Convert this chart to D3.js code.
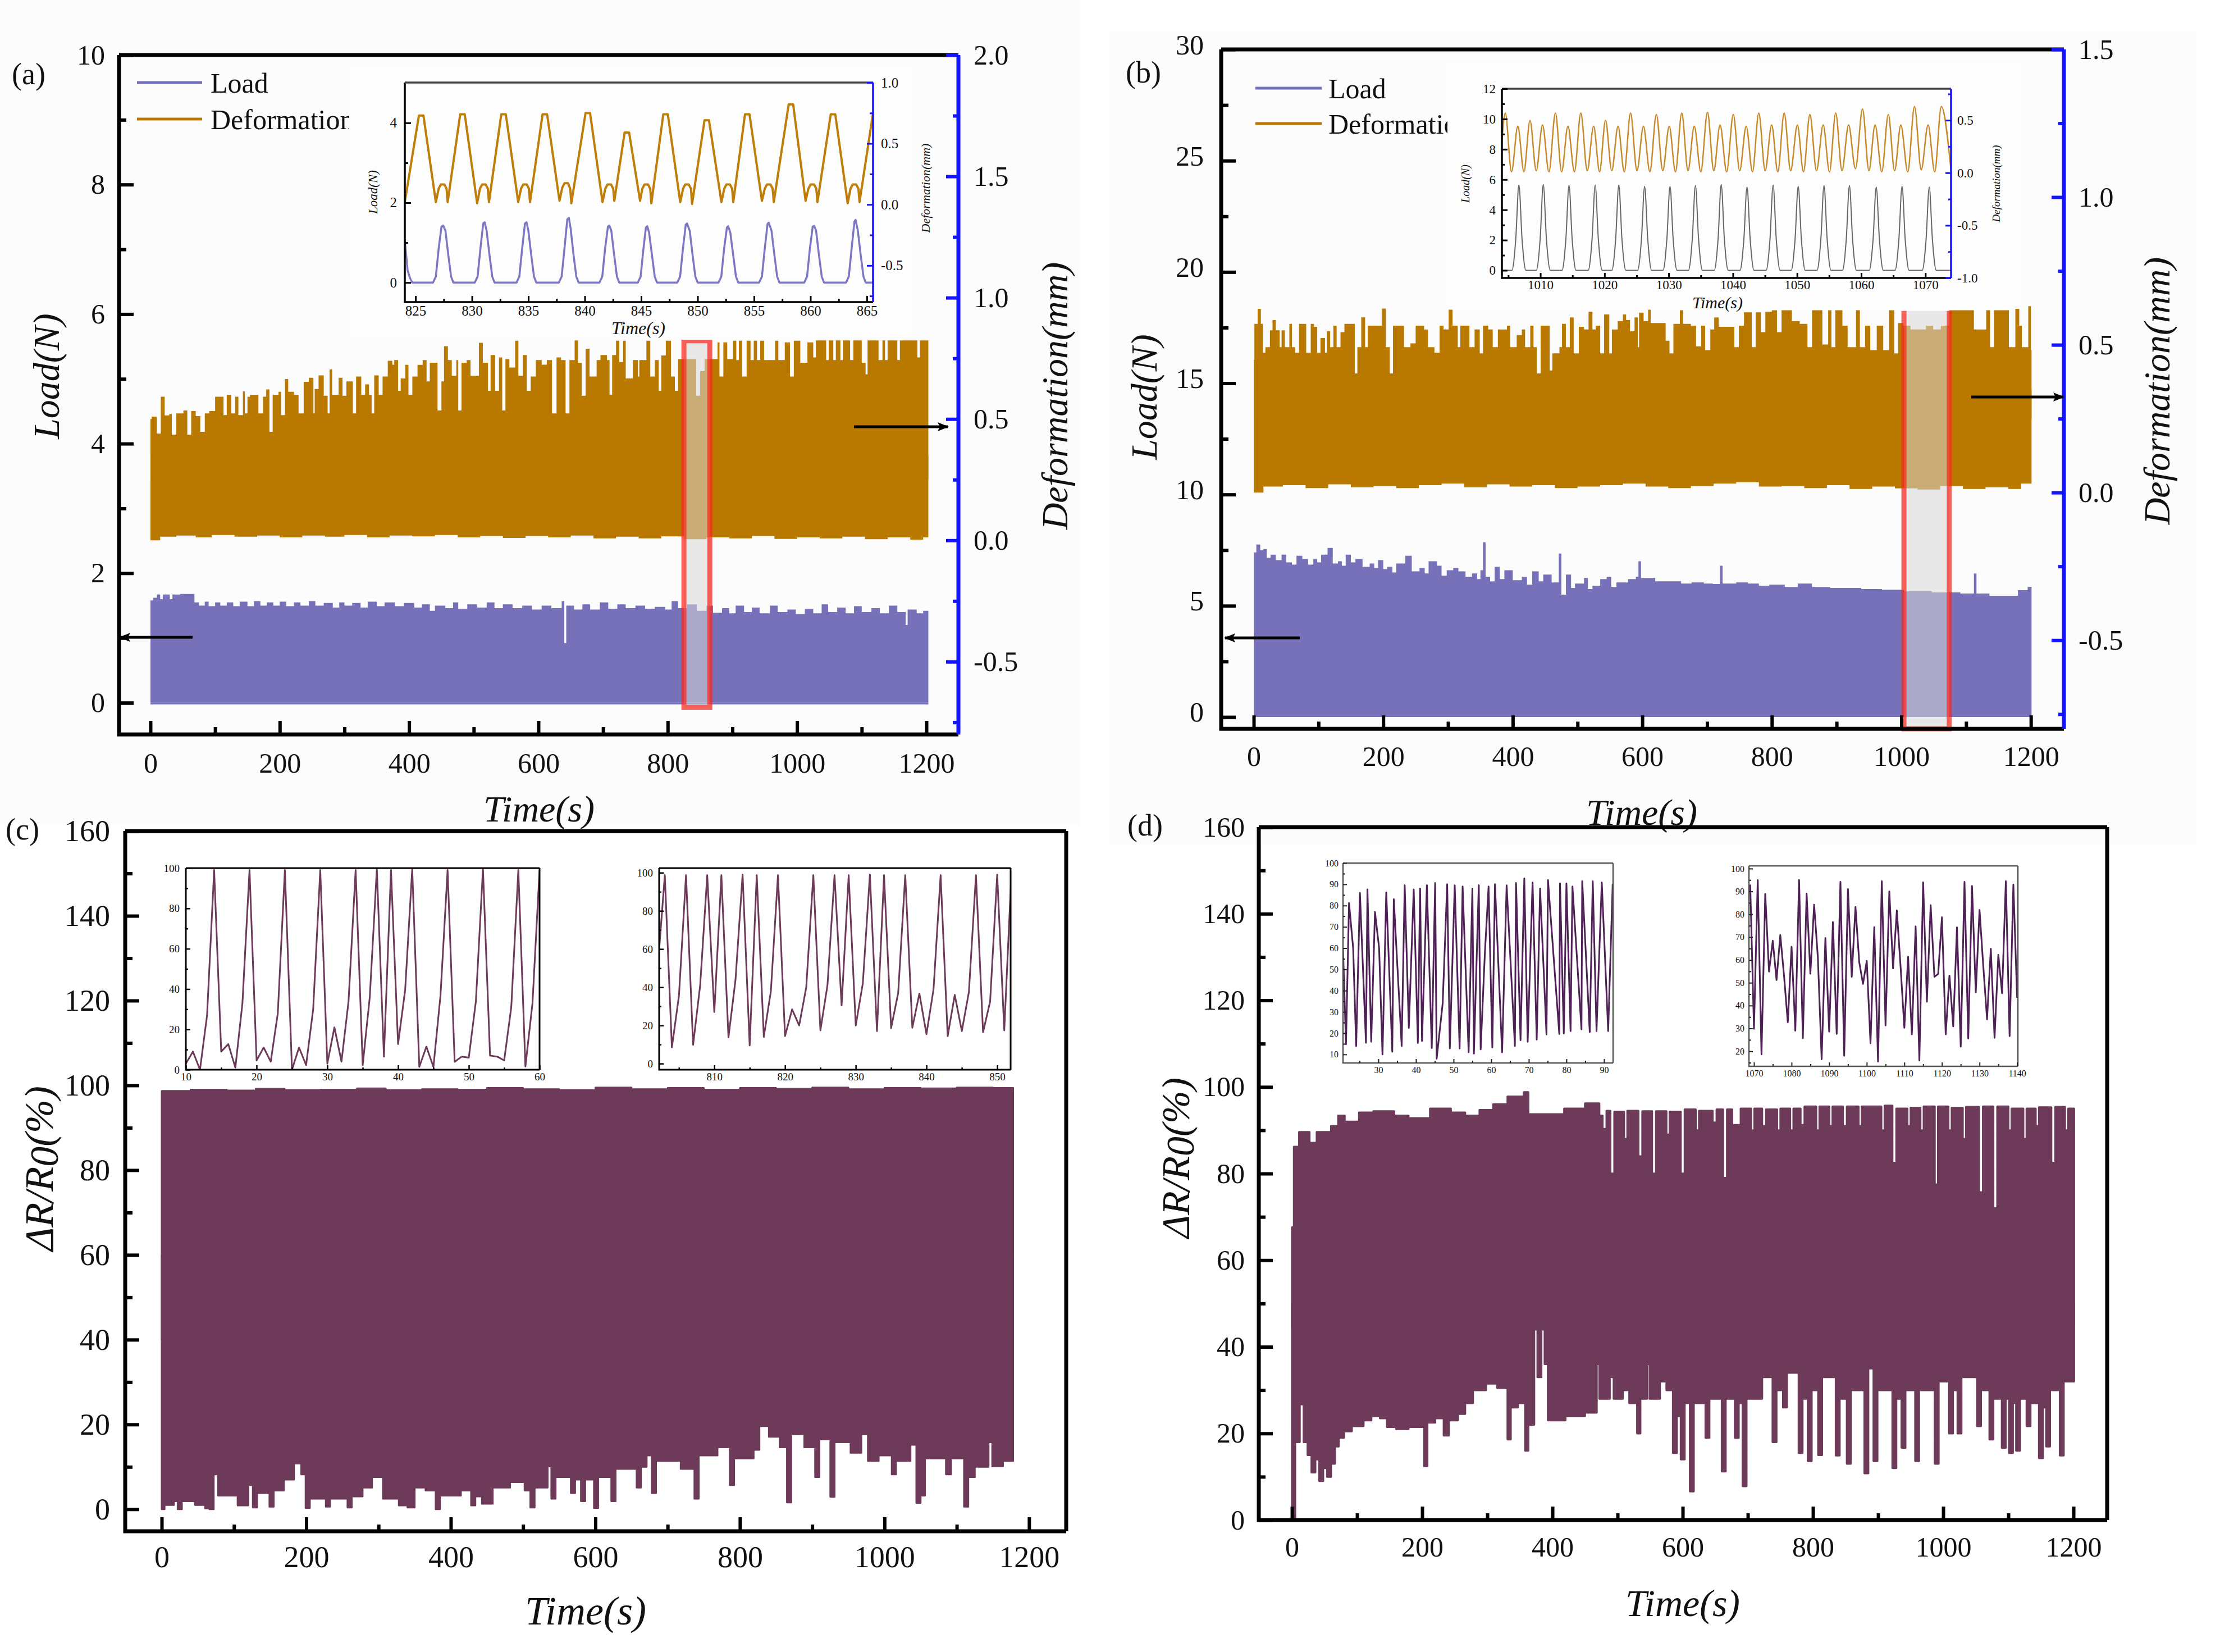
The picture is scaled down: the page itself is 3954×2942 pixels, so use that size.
<!DOCTYPE html>
<html>
<head>
<meta charset="utf-8">
<script src="https://cdnjs.cloudflare.com/ajax/libs/d3/7.8.5/d3.min.js"></script>
<style>
	body { margin: 0; background: #fff; }
	text { font-family: "Liberation Serif", "Times New Roman", serif; fill: #111; }
</style>
</head>
<body>
<div id="vis"></div>
<script>
// all series are [time, value]

// ---- panel (a)
var aDeformTop = [[0,.50],[2,.51],[10,.44],[16,.592],[22,.515],[29,.52],[33,.435],[40,.523],[51,.535],[57,.435],[63,.533],[70,.512],[77,.447],[84,.523],[91,.533],[100,.592],[113,.516],[118,.60],[125,.523],[131,.592],[136,.516],[143,.614],[146,.523],[150,.592],[154,.60],[167,.523],[174,.592],[179,.622],[184,.447],[189,.60],[198,.612],[202,.516],[208,.665],[213,.612],[222,.60],[229,.523],[237,.653],[245,.67],[252,.523],[254,.624],[260,.68],[268,.596],[274,.523],[277,.705],[281,.60],[291,.67],[297,.596],[303,.655],[313,.523],[318,.675],[326,.60],[332,.643],[338,.60],[342,.523],[346,.68],[353,.60],[359,.675],[367,.74],[374,.724],[377,.743],[383,.616],[387,.667],[394,.723],[399,.60],[405,.675],[413,.723],[421,.743],[427,.655],[432,.732],[444,.535],[450,.655],[454,.80],[460,.743],[466,.678],[473,.743],[476,.535],[481,.732],[489,.743],[495,.678],[508,.814],[514,.732],[522,.616],[526,.764],[533,.616],[539,.754],[544,.535],[549,.747],[555,.712],[564,.823],[569,.678],[576,.764],[582,.616],[588,.675],[596,.743],[605,.724],[613,.743],[621,.523],[628,.754],[635,.743],[642,.523],[648,.743],[656,.824],[661,.732],[667,.596],[673,.79],[679,.675],[690,.743],[696,.764],[706,.743],[710,.60],[714,.764],[720,.823],[725,.735],[731,.823],[735,.667],[746,.743],[754,.675],[756,.743],[767,.823],[773,.675],[780,.743],[786,.616],[790,.762],[797,.823],[805,.675],[811,.616],[816,.747],[844,.596],[850,.697],[857,.747],[877,.816],[880,.675],[886,.816],[892,.747],[901,.823],[906,.743],[910,.823],[915,.675],[922,.823],[928,.743],[933,.823],[938,.743],[943,.823],[949,.743],[966,.823],[971,.743],[981,.816],[989,.675],[995,.823],[1005,.732],[1016,.816],[1025,.754],[1029,.824],[1045,.743],[1049,.824],[1056,.743],[1060,.824],[1067,.743],[1071,.824],[1082,.743],[1087,.824],[1100,.732],[1106,.684],[1109,.824],[1126,.743],[1132,.824],[1136,.743],[1140,.824],[1155,.743],[1159,.824],[1186,.754],[1190,.824],[1203,.824]];
var aDeformLow = [[0,.0],[15,.015],[40,.02],[70,.012],[95,.022],[130,.015],[165,.02],[200,.012],[235,.02],[270,.015],[300,.022],[335,.012],[370,.02],[405,.016],[440,.022],[475,.012],[510,.018],[545,.01],[580,.018],[615,.012],[650,.02],[685,.008],[720,.015],[755,.008],[790,.016],[825,.005],[860,.012],[895,.008],[930,.018],[965,.006],[1000,.012],[1035,.008],[1070,.015],[1105,.005],[1140,.012],[1175,.003],[1195,.012],[1203,.012]];
var aLoadTop = [[0,1.58],[4,1.62],[10,1.67],[15,1.6],[19,1.67],[30,1.6],[34,1.67],[46,1.68],[68,1.55],[75,1.5],[84,1.56],[90,1.49],[100,1.55],[108,1.5],[118,1.55],[128,1.49],[138,1.56],[150,1.49],[160,1.57],[170,1.5],[180,1.55],[190,1.5],[200,1.56],[210,1.49],[222,1.55],[232,1.5],[245,1.57],[255,1.5],[268,1.54],[282,1.47],[292,1.55],[300,1.5],[312,1.54],[325,1.47],[336,1.56],[350,1.49],[362,1.55],[378,1.49],[392,1.54],[408,1.47],[420,1.52],[432,1.42],[440,1.5],[456,1.46],[468,1.55],[476,1.45],[490,1.52],[505,1.47],[520,1.55],[532,1.46],[545,1.52],[560,1.46],[575,1.5],[590,1.44],[605,1.5],[620,1.46],[636,1.57],[640,.92],[643,1.5],[655,1.44],[668,1.52],[680,1.44],[695,1.55],[708,1.45],[722,1.52],[735,1.46],[750,1.5],[765,1.45],[780,1.48],[796,1.44],[806,1.57],[816,1.46],[830,1.52],[845,1.42],[860,1.5],[870,1.39],[884,1.46],[895,1.38],[905,1.5],[918,1.4],[930,1.47],[942,1.38],[958,1.5],[970,1.4],[985,1.44],[998,1.37],[1012,1.45],[1025,1.38],[1038,1.52],[1048,1.4],[1062,1.47],[1075,1.38],[1088,1.49],[1100,1.4],[1115,1.46],[1128,1.38],[1142,1.5],[1155,1.4],[1168,1.2],[1171,1.44],[1185,1.38],[1195,1.42],[1203,1.42]];

// zoomed cycles of (a), 824 to 865.5 s
var aInsetDeform = [[824.05,.02],[825.3,.73],[825.7,.73],[826.8,.02],[827.05,.13],[827.25,.165],[827.55,.165],[827.75,.13],[827.85,.02],[828.96,.74],[829.36,.74],[830.46,.01],[830.71,.13],[830.91,.165],[831.21,.165],[831.41,.13],[831.51,.02],[832.6,.74],[833,.74],[834.1,.02],[834.35,.13],[834.55,.165],[834.85,.165],[835.05,.13],[835.15,.02],[836.26,.74],[836.66,.74],[837.76,.03],[838.01,.14],[838.21,.175],[838.51,.175],[838.71,.13],[838.81,.01],[840.07,.75],[840.47,.75],[841.57,.02],[841.82,.13],[842.02,.165],[842.32,.165],[842.52,.13],[842.62,.03],[843.53,.59],[843.93,.59],[844.9,.03],[845.1,.13],[845.3,.165],[845.6,.165],[845.8,.13],[845.9,.01],[846.96,.74],[847.36,.74],[848.46,.02],[848.71,.13],[848.91,.165],[849.21,.165],[849.41,.13],[849.51,.005],[850.61,.69],[851.01,.69],[852.11,.02],[852.36,.13],[852.56,.165],[852.86,.165],[853.06,.13],[853.16,.02],[854.2,.74],[854.6,.74],[855.7,.03],[855.95,.13],[856.15,.165],[856.45,.165],[856.65,.13],[856.75,.02],[858.07,.82],[858.47,.82],[859.57,.03],[859.82,.13],[860.02,.165],[860.32,.165],[860.52,.13],[860.62,.02],[861.8,.74],[862.2,.74],[863.3,.01],[863.55,.13],[863.75,.165],[864.05,.165],[864.25,.13],[864.35,.02],[865.55,.75]];
var aInsetLoad = [[824.05,1.05],[824.3,.3],[824.5,.12],[824.7,0],[826.55,0],[826.8,.15],[827.05,.85],[827.3,1.4],[827.45,1.43],[827.65,1.3],[827.9,.7],[828.15,.15],[828.35,0],[830.25,0],[830.5,.15],[830.75,.85],[831,1.48],[831.13,1.51],[831.3,1.3],[831.55,.7],[831.8,.15],[832,0],[833.95,0],[834.2,.15],[834.45,.85],[834.7,1.48],[834.84,1.51],[835,1.3],[835.25,.7],[835.5,.15],[835.7,0],[837.7,0],[837.95,.15],[838.2,.85],[838.45,1.58],[838.59,1.62],[838.75,1.35],[839,.7],[839.25,.15],[839.45,0],[841.3,0],[841.55,.15],[841.8,.85],[842.05,1.4],[842.17,1.43],[842.35,1.3],[842.6,.7],[842.85,.15],[843.05,0],[844.7,0],[844.95,.15],[845.2,.85],[845.42,1.38],[845.54,1.41],[845.7,1.25],[845.95,.7],[846.2,.15],[846.4,0],[848.2,0],[848.45,.15],[848.7,.85],[848.95,1.45],[849.06,1.48],[849.3,1.3],[849.55,.7],[849.8,.15],[850,0],[851.85,0],[852.1,.15],[852.35,.85],[852.6,1.38],[852.71,1.41],[852.9,1.25],[853.15,.7],[853.4,.15],[853.6,0],[855.45,0],[855.7,.15],[855.95,.85],[856.2,1.47],[856.3,1.5],[856.55,1.3],[856.8,.7],[857.05,.15],[857.25,0],[859.45,0],[859.7,.15],[859.95,.85],[860.2,1.4],[860.33,1.42],[860.5,1.3],[860.75,.7],[861,.15],[861.2,0],[863.15,0],[863.4,.15],[863.65,.85],[863.9,1.53],[864,1.57],[864.2,1.3],[864.45,.7],[864.7,.15],[864.9,0],[865.55,0]];

// ---- panel (b)
var bDeformTop = [[0,.45],[1,.571],[6,.622],[11,.571],[14,.473],[18,.492],[25,.549],[29,.584],[34,.549],[40,.492],[43,.549],[48,.492],[55,.571],[59,.492],[64,.473],[70,.571],[81,.473],[88,.571],[93,.561],[98,.473],[103,.523],[110,.473],[113,.546],[118,.492],[123,.565],[128,.492],[134,.543],[140,.571],[156,.403],[160,.492],[166,.593],[172,.492],[176,.565],[198,.623],[204,.492],[210,.403],[215,.565],[232,.492],[242,.505],[250,.565],[263,.552],[269,.492],[279,.473],[287,.565],[293,.552],[301,.619],[307,.565],[315,.492],[319,.565],[333,.492],[341,.552],[349,.471],[354,.565],[362,.552],[369,.492],[377,.552],[391,.565],[396,.492],[406,.533],[414,.552],[419,.492],[427,.565],[432,.492],[437,.403],[443,.565],[457,.413],[461,.471],[472,.492],[476,.571],[482,.492],[488,.593],[494,.471],[502,.561],[510,.552],[517,.612],[523,.552],[528,.565],[535,.471],[541,.603],[549,.471],[553,.552],[562,.58],[570,.603],[575,.584],[581,.546],[588,.593],[593,.492],[595,.609],[602,.58],[609,.619],[613,.574],[636,.514],[642,.471],[648,.571],[658,.617],[663,.571],[675,.565],[683,.495],[691,.565],[697,.482],[705,.552],[711,.593],[718,.561],[742,.492],[749,.565],[757,.61],[769,.492],[775,.61],[783,.543],[790,.612],[800,.617],[808,.543],[815,.617],[831,.58],[843,.571],[855,.492],[862,.617],[878,.501],[887,.617],[892,.492],[898,.617],[909,.565],[917,.492],[930,.617],[936,.492],[944,.565],[952,.482],[962,.565],[972,.482],[981,.617],[989,.471],[995,.574],[1003,.565],[1014,.552],[1038,.565],[1049,.552],[1061,.565],[1074,.617],[1112,.552],[1131,.617],[1137,.492],[1143,.617],[1166,.492],[1176,.642],[1182,.565],[1186,.492],[1196,.631],[1200,.482],[1201,.482]];
var bDeformLow = [[0,.0],[15,.02],[45,.025],[80,.015],[115,.028],[150,.018],[185,.022],[220,.015],[255,.025],[290,.03],[325,.018],[360,.028],[395,.02],[430,.025],[465,.015],[500,.02],[535,.025],[570,.03],[605,.02],[640,.015],[675,.022],[710,.03],[745,.035],[780,.02],[815,.022],[850,.015],[885,.025],[920,.012],[955,.02],[990,.014],[1025,.01],[1060,.022],[1095,.012],[1130,.018],[1165,.012],[1185,.03],[1201,.03]];
var bLoadTop = [[0,7.4],[4,7.75],[10,7.5],[15,7.55],[20,7.15],[26,7.3],[34,7.05],[43,7.3],[50,6.95],[59,6.85],[66,7.25],[75,7.1],[84,6.85],[92,7.1],[98,6.95],[104,7.3],[114,7.6],[122,6.9],[130,7.0],[136,6.8],[142,7.3],[150,6.95],[157,7.1],[168,6.75],[179,6.9],[186,6.7],[192,7.05],[200,6.65],[206,6.75],[214,6.5],[220,6.9],[234,7.25],[244,6.55],[256,6.7],[264,6.45],[270,7.0],[283,6.8],[290,6.35],[298,6.6],[308,6.7],[316,6.55],[327,6.3],[337,6.45],[345,6.2],[350,6.6],[354,7.85],[358,6.3],[365,6.1],[372,6.75],[380,6.2],[387,6.6],[400,6.15],[414,6.3],[422,5.95],[430,6.55],[440,6.1],[447,6.4],[460,6.05],[471,7.35],[475,5.5],[482,6.4],[490,5.8],[496,6.0],[510,6.25],[516,5.75],[523,5.9],[535,6.2],[545,6.3],[552,5.85],[560,6.05],[578,6.2],[590,6.3],[594,7.0],[598,6.25],[620,6.1],[643,6.1],[660,6.0],[676,6.05],[695,6.0],[709,5.98],[720,6.8],[724,6.0],[745,6.05],[763,6.0],[780,5.9],[796,5.95],[820,5.85],[840,6.0],[862,5.85],[890,5.8],[938,5.75],[970,5.72],[1004,5.65],[1047,5.6],[1091,5.55],[1112,6.45],[1116,5.55],[1136,5.45],[1156,5.45],[1180,5.7],[1195,5.85],[1201,5.8]];

// zoomed cycles of (b), 1004 to 1074 s
var bInsetDeform = [[1004,.3],[1004.53,.567],[1005.5,.01],[1006.48,.444],[1007.43,.01],[1008.38,.498],[1009.35,.02],[1010.33,.455],[1011.33,.01],[1012.34,.567],[1013.31,.01],[1014.29,.444],[1015.3,.01],[1016.3,.567],[1017.3,.02],[1018.3,.444],[1019.22,.01],[1020.15,.498],[1021.12,.02],[1022.1,.444],[1023.07,.01],[1024.05,.567],[1025.05,.02],[1026.06,.444],[1027.06,.01],[1028.07,.554],[1029.07,.02],[1030.08,.444],[1031.05,.01],[1032.03,.567],[1033,.02],[1033.98,.444],[1035,.01],[1036.04,.576],[1037.02,.02],[1038,.455],[1039.03,.01],[1040.06,.554],[1041.06,.02],[1042.07,.444],[1043.05,.01],[1044.03,.567],[1045.03,.02],[1046.04,.455],[1047,.01],[1047.99,.567],[1049,.02],[1050.05,.455],[1051,.01],[1052,.554],[1053.03,.02],[1054.07,.455],[1055.05,.01],[1056.02,.567],[1057,.02],[1058.03,.455],[1059.1,.04],[1060.2,.606],[1061.2,.02],[1062.16,.455],[1063.2,.01],[1064.22,.554],[1065.2,.02],[1066.17,.455],[1067.25,.01],[1068.3,.63],[1069.35,.03],[1070.42,.455],[1071.45,.01],[1072.48,.63],[1074,.02]];
var bInsetLoad = [[1004,0],[1005.55,0],[1006.15,2],[1006.65,5.64],[1007.15,2],[1007.75,0],[1009.35,0],[1009.95,2],[1010.45,5.67],[1010.95,2],[1011.55,0],[1013.36,0],[1013.96,2],[1014.46,5.62],[1014.96,2],[1015.56,0],[1017.44,0],[1018.04,2],[1018.54,5.62],[1019.04,2],[1019.64,0],[1021.12,0],[1021.72,2],[1022.22,5.64],[1022.72,2],[1023.32,0],[1025.14,0],[1025.74,2],[1026.24,5.55],[1026.74,2],[1027.34,0],[1029.1,0],[1029.7,2],[1030.2,5.55],[1030.7,2],[1031.3,0],[1033.06,0],[1033.66,2],[1034.16,5.6],[1034.66,2],[1035.26,0],[1037.08,0],[1037.68,2],[1038.18,5.67],[1038.68,2],[1039.28,0],[1041.1,0],[1041.7,2],[1042.2,5.5],[1042.7,2],[1043.3,0],[1045.17,0],[1045.77,2],[1046.27,5.63],[1046.77,2],[1047.37,0],[1049.08,0],[1049.68,2],[1050.18,5.55],[1050.68,2],[1051.28,0],[1053.1,0],[1053.7,2],[1054.2,5.6],[1054.7,2],[1055.3,0],[1057.06,0],[1057.66,2],[1058.16,5.6],[1058.66,2],[1059.26,0],[1061.24,0],[1061.84,2],[1062.34,5.5],[1062.84,2],[1063.44,0],[1065.26,0],[1065.86,2],[1066.36,5.55],[1066.86,2],[1067.46,0],[1069.5,0],[1070.1,2],[1070.6,5.5],[1071.1,2],[1071.7,0],[1074,0]];

// ---- panel (c)
var cTop = [[0,98.7],[40,99],[90,98.8],[130,99.2],[170,98.9],[220,99],[270,99.3],[310,98.9],[360,99.1],[410,99],[450,99.4],[500,99.1],[550,98.9],[600,99.5],[650,99.1],[700,99.4],[750,99],[800,99.4],[850,99.2],[900,99.5],[950,99.1],[1000,99.4],[1050,99.3],[1100,99.5],[1150,99.4],[1178,99.4]];
var cLow = [[0,0],[4,1],[17,1.9],[22,0],[28,1.9],[46,1],[60,.2],[66,0],[72,8.2],[78,3.2],[105,.9],[120,5.7],[126,.4],[132,3.8],[149,.6],[155,4.4],[169,7],[183,10.8],[193,8.2],[199,.3],[205,2.5],[227,.6],[233,2.5],[257,.4],[263,3],[278,5.1],[291,7.6],[306,2.5],[328,.9],[340,.4],[350,5.1],[365,4.4],[379,0],[385,3.2],[414,4.4],[428,.9],[434,3],[443,1.3],[458,5.1],[482,6.4],[502,4.4],[510,.4],[516,5.1],[534,10.1],[539,2.5],[545,7.6],[566,3.8],[572,7],[580,1.9],[586,7],[598,.3],[604,7.6],[622,1.9],[628,9.5],[657,5.1],[663,10],[671,12.7],[678,3.8],[684,11.4],[718,9.5],[737,2.5],[743,12.7],[769,14.6],[786,5.7],[792,12],[819,14],[827,19.6],[840,17.1],[855,14.6],[865,1.6],[871,17.7],[889,14.6],[904,7.6],[910,16.5],[925,2.9],[931,15.8],[953,13.3],[968,17.7],[977,11.4],[992,12.7],[1010,8.2],[1016,11.4],[1036,15.2],[1044,1.5],[1050,3.2],[1056,12],[1085,8.2],[1092,12],[1110,.6],[1116,7.6],[1125,10],[1144,15.8],[1149,10.1],[1164,11.4],[1178,13.3]];
var cInsetStart = [[10,3],[11,9],[12,0],[13,27],[14,99],[15,9],[16,12.7],[17,1],[18,33],[19,99],[20,4.6],[21,11],[22,4],[23,28],[24,99],[25,0],[26,11],[27,2.3],[28,30],[29,99],[30,3],[31,21],[32,4],[33,34],[34,99],[35,2.3],[36,36],[37,99.5],[38,6.5],[39,99],[40,12.7],[41,39.5],[42,99.5],[43,1.4],[44,11.4],[45,1.4],[46,37],[47,99],[48,3.9],[49,6.5],[50,6],[51,34],[52,99.5],[53,7],[54,6.5],[55,4.6],[56,31],[57,99],[58,1.6],[59,33],[60,99]];
var cInsetLate = [[802,50],[803,98.7],[804,8.5],[805,35.5],[806,98.7],[807,9.8],[808,41],[809,98.7],[810,27],[811,98.7],[812,13.7],[813,44],[814,99],[815,9.5],[816,98.7],[817,14],[818,38],[819,98.7],[820,14.4],[821,28.4],[822,20],[823,40],[824,98.7],[825,17.4],[826,41],[827,98.7],[828,30.4],[829,98.7],[830,20],[831,42],[832,99],[833,17],[834,98.7],[835,18.6],[836,37],[837,98.7],[838,18.8],[839,36.7],[840,15.4],[841,39],[842,98.7],[843,14.4],[844,36],[845,17],[846,37.5],[847,98.7],[848,16.4],[849,32.5],[850,99],[851,17.4],[852,98.7]];

// ---- panel (d)
var dTop = [[0,67.6],[3,86.2],[11,89.6],[27,87.1],[38,89.6],[60,91],[71,93.4],[81,92],[103,94.1],[125,94.4],[157,93.4],[179,92.8],[212,95],[244,94.1],[266,93.4],[288,94.7],[309,96],[331,97.8],[356,98.8],[363,93.7],[396,93.7],[418,95],[450,96.2],[472,93.4],[477,90.3],[483,94.5],[489,80],[495,94.3],[510,88],[515,94.5],[532,84],[538,94.4],[553,80],[559,94.4],[575,89],[580,94.3],[597,80],[603,94.8],[620,90],[625,94.5],[646,91.8],[652,94.8],[662,79],[668,94.8],[676,91.2],[689,95],[705,90],[710,95],[722,91],[728,94.8],[745,90],[750,95],[765,90],[770,95],[781,91.2],[787,95.5],[805,90],[810,95.5],[825,91],[830,95.5],[846,91],[852,95.5],[870,91],[875,95.5],[905,90],[910,95.7],[922,82.5],[928,95],[945,91],[950,95.2],[965,90],[970,95.5],[987,77.5],[992,95.5],[1008,90],[1013,95.2],[1030,88],[1035,95.4],[1055,75.7],[1061,95.5],[1077,72],[1083,95.5],[1100,90],[1105,95],[1123,88],[1128,95],[1142,91],[1147,95.3],[1166,82.5],[1172,95.4],[1187,90],[1192,95],[1201,92]];
var dLow = [[0,0],[5,18],[12,26.7],[18,18],[24,15],[30,11],[36,14],[42,9],[48,12],[54,10],[60,13],[66,17],[72,19],[80,20.5],[92,21.7],[110,23],[122,24],[135,23.5],[146,21.5],[160,21],[179,21.5],[203,12.4],[208,22.5],[220,23.5],[233,19.5],[241,23],[255,24.5],[266,27],[278,30],[298,31.5],[315,30.5],[331,18.6],[336,26],[347,27],[358,16],[363,22],[372,44],[377,33],[383,44],[388,36],[393,23],[420,24],[450,24.8],[468,36],[472,28],[488,33],[494,28],[508,30],[515,44],[518,27],[530,20],[535,28],[545,36],[549,28],[565,32],[575,30],[585,15.5],[591,24],[597,14],[603,27],[611,6.6],[617,27],[635,19],[641,28],[660,11.2],[666,28],[680,19],[686,27],[692,7.8],[698,28],[722,33],[738,18],[744,30],[754,26],[760,34],[778,15.5],[784,28],[792,13.6],[798,30],[808,15],[814,33],[835,14.9],[841,28],[852,13],[858,30],[879,10.8],[885,35],[893,13.6],[899,30],[922,12],[928,28],[936,16.7],[942,30],[957,13.6],[963,30],[987,13],[993,32],[1009,20],[1015,30],[1022,20],[1028,33],[1052,21.7],[1058,30],[1071,18.6],[1077,28],[1090,16.7],[1096,28],[1101,15.5],[1107,27],[1112,16],[1118,28],[1128,21.7],[1134,27],[1147,14.3],[1153,26],[1158,17],[1164,30],[1179,14.9],[1185,32],[1201,32.9]];
var dInsetStart = [[20.6,60],[21.4,14.8],[22.2,81.2],[23.3,60],[24.1,14],[25.1,86],[26.7,15.5],[27.1,87.6],[28.1,16],[29.1,77],[30.2,60],[31.1,10],[32.1,86.2],[33.7,11.3],[34.1,83],[36.2,14],[37,89.6],[38.1,22.5],[39.4,87.6],[40.5,15.4],[41.1,88],[41.6,16.3],[42.9,89.6],[44.2,13],[45.1,90.6],[45.5,8],[47.1,34],[48.3,90],[49,12.8],[50.3,89.6],[51.6,12.8],[52.4,89],[54,11],[55,88],[55.4,10.4],[56.7,89.6],[57.2,12.4],[58.3,57],[59.3,89],[60.3,13.3],[61,90],[62.9,11],[64.1,89.5],[66.3,14],[66.6,90.6],[67.8,16.7],[68.8,92.8],[69.7,16],[71,90.9],[72.1,17],[73,88],[74.7,19.4],[75.1,92],[78.1,19.6],[78.3,90.4],[79.3,19.8],[80,90.4],[81.1,21],[81.6,89],[84,21.8],[84.2,91.5],[86.2,20.5],[87,91.5],[88,21],[89.4,90.9],[91.1,21],[92.3,90.2]];
var dInsetLate = [[1069,93],[1070,29.8],[1071,95],[1072,18.6],[1073,88.9],[1074,54.9],[1075,68.4],[1076,51.2],[1077,70.9],[1078,53],[1079,32.7],[1080,65.8],[1081,29],[1082,95],[1083,25.7],[1084,89],[1085,54],[1086,84.2],[1087,61],[1088,16.5],[1089,69.6],[1090,28.6],[1091,76.6],[1092,27.6],[1093,94.2],[1094,18],[1095,91],[1096,52.6],[1097,83.2],[1098,59],[1099,49.5],[1100,59.6],[1101,23.5],[1102,74.4],[1103,15.5],[1104,94.5],[1105,31.3],[1106,90],[1107,56.3],[1108,81.7],[1109,57],[1110,30.3],[1111,61.4],[1112,27.4],[1113,74.7],[1114,16],[1115,94],[1116,41.7],[1117,84],[1118,52.6],[1119,53.9],[1120,78.7],[1121,27.4],[1122,53.2],[1123,30.9],[1124,74.3],[1125,22],[1126,94.2],[1127,25.6],[1128,92.4],[1129,45.8],[1130,81.9],[1131,57.3],[1132,34],[1133,64.9],[1134,25.9],[1135,62.2],[1136,45.4],[1137,94.5],[1138,26.6],[1139,93],[1140,43.4]];

// tick labels
var timeTicks = [0,200,400,600,800,1000,1200];
var timeMinor = [100,300,500,700,900,1100];
var aLoadTicks = [0,2,4,6,8,10];
var aLoadMinor = [1,3,5,7,9];
var aDefTicks = [-0.5,0,0.5,1,1.5,2];
var defMinor = [-0.75,-0.25,0.25,0.75,1.25,1.75];
var bLoadTicks = [0,5,10,15,20,25,30];
var bLoadMinor = [2.5,7.5,12.5,17.5,22.5,27.5];
var bDefTicks = [-0.5,0,0.5,1,1.5];
var resTicks = [0,20,40,60,80,100,120,140,160];
var resMinor = [10,30,50,70,90,110,130,150];

var loadColor = "#7671b9";
var deformColor = "#b97800";
var resColor = "#6d3a59";
var axisBlue = "#1414ff";
var serif = "'Liberation Serif', serif";

var svg = d3.select("#vis").append("svg")
	.attr("width", 3954)
	.attr("height", 2942)
	.style("display", "block");

svg.append("rect").attr("width", 3954).attr("height", 2942).attr("fill", "#fff");
svg.append("rect").attr("x", 0).attr("y", 0).attr("width", 1925).attr("height", 1470).attr("fill", "#fcfcfc");
svg.append("rect").attr("x", 1975).attr("y", 55).attr("width", 1938).attr("height", 1450).attr("fill", "#fcfcfc");

var defs = svg.append("defs");
defs.append("marker")
	.attr("id", "arrow")
	.attr("markerUnits", "userSpaceOnUse")
	.attr("viewBox", "0 0 10 10")
	.attr("refX", 9).attr("refY", 5)
	.attr("markerWidth", 20).attr("markerHeight", 20)
	.attr("orient", "auto")
	.append("path")
	.attr("d", "M0,1 L10,5 L0,9 L2,5 Z")
	.attr("fill", "#000");

function addText(x, y, str, size, opts) {
	opts = opts || {};
	var t = svg.append("text")
		.attr("x", x)
		.attr("y", y)
		.attr("dy", "0.35em")
		.attr("font-size", size)
		.attr("text-anchor", opts.anchor || "middle")
		.style("font-style", opts.italic ? "italic" : "normal")
		.text(str);
	if (opts.rotate) {
		t.attr("transform", "rotate(-90 " + x + " " + y + ")");
	}
	return t;
}

// envelope of a dense trace: filled from the traced edge to a value inside the band
function drawEnvelope(xs, ys, series, inside, color, thick) {
	var area = d3.area()
		.curve(d3.curveStepAfter)
		.x(function(d) { return xs(d[0]); })
		.y0(ys(inside))
		.y1(function(d) { return ys(d[1]); });
	svg.append("path")
		.attr("d", area(series))
		.attr("fill", color)
		.attr("stroke", thick ? color : "none")
		.attr("stroke-width", thick || 0)
		.attr("stroke-linejoin", "round");
}

function styleAxis(g, color, width, size, shift) {
	g.select(".domain").remove();
	g.selectAll(".tick line").attr("stroke", color).attr("stroke-width", width);
	g.selectAll(".tick text").attr("font-size", size).attr("font-family", serif).attr("fill", "#111");
	if (shift) {
		g.selectAll(".tick text").attr("y", shift);
	}
}

// major and minor ticks point into the plot
function drawAxis(maker, scale, ticks, minor, at, o) {
	var fmt = o.fmt || function(d) { return d; };
	var gMinor = svg.append("g").attr("transform", at);
	gMinor.call(maker(scale).tickValues(minor).tickSize(-o.minorLen).tickFormat(""));
	styleAxis(gMinor, o.color, o.width, o.size);
	var gMajor = svg.append("g").attr("transform", at);
	gMajor.call(maker(scale).tickValues(ticks).tickSize(-o.len).tickPadding(o.pad).tickFormat(fmt));
	styleAxis(gMajor, o.color, o.width, o.size, o.shift);
}

function oneDecimal(d) { return d.toFixed(1); }

function drawFrame(b, color, width, rightColor, topColor) {
	svg.append("path")
		.attr("d", "M" + b.l + "," + b.t + "V" + b.b + "H" + b.r)
		.attr("fill", "none").attr("stroke", color).attr("stroke-width", width);
	svg.append("line").attr("x1", b.l).attr("x2", b.r).attr("y1", b.t).attr("y2", b.t)
		.attr("stroke", topColor || color).attr("stroke-width", width);
	svg.append("line").attr("x1", b.r).attr("x2", b.r).attr("y1", b.t).attr("y2", b.b)
		.attr("stroke", rightColor || color).attr("stroke-width", width);
}

function drawHighlight(xs, yTop, yBottom, t0, t1, withTop) {
	var x0 = xs(t0), x1 = xs(t1);
	svg.append("rect")
		.attr("x", x0).attr("y", yTop)
		.attr("width", x1 - x0).attr("height", yBottom - yTop)
		.attr("fill", "rgba(215,215,215,0.55)");
	var d = "M" + x0 + "," + yTop + "V" + yBottom + "H" + x1 + "V" + yTop + (withTop ? "Z" : "");
	svg.append("path")
		.attr("d", d)
		.attr("fill", "none")
		.attr("stroke", "rgba(250,40,30,0.72)")
		.attr("stroke-width", 9);
}

function drawArrow(x1, x2, y) {
	svg.append("line")
		.attr("x1", x1).attr("x2", x2).attr("y1", y).attr("y2", y)
		.attr("stroke", "#000").attr("stroke-width", 5)
		.attr("marker-end", "url(#arrow)");
}

function drawLegend(x0, x1, textX, y1, y2) {
	svg.append("line").attr("x1", x0).attr("x2", x1).attr("y1", y1).attr("y2", y1)
		.attr("stroke", loadColor).attr("stroke-width", 5);
	svg.append("line").attr("x1", x0).attr("x2", x1).attr("y1", y2).attr("y2", y2)
		.attr("stroke", deformColor).attr("stroke-width", 5);
	addText(textX, y1, "Load", 50, { anchor: "start" });
	addText(textX, y2, "Deformation", 50, { anchor: "start" });
}

var insetId = 0;
function drawInsetLine(b, xs, ys, series, color, width, curve) {
	insetId += 1;
	var id = "inset" + insetId;
	defs.append("clipPath").attr("id", id).append("rect")
		.attr("x", b.l).attr("y", b.t).attr("width", b.r - b.l).attr("height", b.b - b.t);
	var line = d3.line()
		.curve(curve || d3.curveLinear)
		.x(function(d) { return xs(d[0]); })
		.y(function(d) { return ys(d[1]); });
	svg.append("path")
		.attr("d", line(series))
		.attr("clip-path", "url(#" + id + ")")
		.attr("fill", "none")
		.attr("stroke", color)
		.attr("stroke-width", width)
		.attr("stroke-linejoin", "round");
}

function axisOpts(len, minorLen, pad, size, color, width, fmt, shift) {
	return { len: len, minorLen: minorLen, pad: pad, size: size, color: color, width: width, fmt: fmt, shift: shift };
}

// ---------- panel (a)
var boxA = { l: 212, r: 1707, t: 98, b: 1308 };
var xA = d3.scaleLinear().domain([-48.6, 1249.5]).range([boxA.l, boxA.r]);
var yLoadA = d3.scaleLinear().domain([-0.49, 10]).range([boxA.b, boxA.t]);
var yDefA = d3.scaleLinear().domain([-0.8, 2]).range([boxA.b, boxA.t]);

drawEnvelope(xA, yDefA, aDeformTop, 0.25, deformColor);
drawEnvelope(xA, yDefA, aDeformLow, 0.35, deformColor);
drawEnvelope(xA, yLoadA, aLoadTop, 0, loadColor);
svg.append("rect").attr("x", xA(0)).attr("y", yLoadA(0)).attr("width", xA(1203) - xA(0)).attr("height", 3).attr("fill", loadColor);
drawHighlight(xA, yLoadA(5.59), yLoadA(-0.07), 825, 865, true);
drawFrame(boxA, "#000", 7, axisBlue);
drawAxis(d3.axisBottom, xA, timeTicks, timeMinor, "translate(0," + boxA.b + ")", axisOpts(24, 13, 32, 50, "#000", 6));
drawAxis(d3.axisLeft, yLoadA, aLoadTicks, aLoadMinor, "translate(" + boxA.l + ",0)", axisOpts(26, 13, 25, 50, "#000", 6));
drawAxis(d3.axisRight, yDefA, aDefTicks, defMinor, "translate(" + boxA.r + ",0)", axisOpts(22, 10, 27, 50, axisBlue, 6, oneDecimal));
drawArrow(343, 214, 1135);
drawArrow(1521, 1688, 760);
drawLegend(244, 360, 375, 147, 212);
svg.append("rect").attr("x", 622).attr("y", 115).attr("width", 1006).attr("height", 490).attr("fill", "#fdfdfd");
addText(21, 131, "(a)", 54, { anchor: "start" });
addText(960, 1440, "Time(s)", 66, { italic: true });
addText(82, 670, "Load(N)", 66, { italic: true, rotate: true });
addText(1878, 705, "Deformation(mm)", 66, { italic: true, rotate: true });

// inset of (a)
var inA = { l: 721, r: 1555, t: 147, b: 538 };
var inAx = d3.scaleLinear().domain([824.05, 865.55]).range([inA.l, inA.r]);
var inAyL = d3.scaleLinear().domain([-0.49, 5.01]).range([inA.b, inA.t]);
var inAyR = d3.scaleLinear().domain([-0.8, 1]).range([inA.b, inA.t]);
drawInsetLine(inA, inAx, inAyR, aInsetDeform, "#c07d08", 4);
drawInsetLine(inA, inAx, inAyL, aInsetLoad, "#7b77c4", 3.5);
drawFrame(inA, "#000", 3.5, axisBlue, "#444");
drawAxis(d3.axisBottom, inAx, d3.range(825, 866, 5), d3.range(827.5, 865, 5), "translate(0," + inA.b + ")", axisOpts(11, 6, 6, 25, "#000", 3));
drawAxis(d3.axisLeft, inAyL, [0, 2, 4], [1, 3], "translate(" + inA.l + ",0)", axisOpts(11, 6, 14, 25, "#000", 3));
drawAxis(d3.axisRight, inAyR, [-0.5, 0, 0.5, 1], [-0.75, -0.25, 0.25, 0.75], "translate(" + inA.r + ",0)", axisOpts(11, 6, 14, 25, axisBlue, 3, oneDecimal));
addText(1137, 584, "Time(s)", 32, { italic: true });
addText(664, 342, "Load(N)", 23, { italic: true, rotate: true });
addText(1648, 335, "Deformation(mm)", 22, { italic: true, rotate: true });

// ---------- panel (b)
var boxB = { l: 2175, r: 3676, t: 88, b: 1298 };
var xB = d3.scaleLinear().domain([-50.3, 1251]).range([boxB.l, boxB.r]);
var yLoadB = d3.scaleLinear().domain([-0.53, 30]).range([boxB.b, boxB.t]);
var yDefB = d3.scaleLinear().domain([-0.8, 1.5]).range([boxB.b, boxB.t]);

drawEnvelope(xB, yDefB, bDeformTop, 0.25, deformColor);
drawEnvelope(xB, yDefB, bDeformLow, 0.35, deformColor);
drawEnvelope(xB, yLoadB, bLoadTop, 0, loadColor);
drawHighlight(xB, yLoadB(18.25), boxB.b, 1004, 1074, false);
drawFrame(boxB, "#000", 7, axisBlue);
drawAxis(d3.axisBottom, xB, timeTicks, timeMinor, "translate(0," + boxB.b + ")", axisOpts(24, 13, 30, 50, "#000", 6));
drawAxis(d3.axisLeft, yLoadB, bLoadTicks, bLoadMinor, "translate(" + boxB.l + ",0)", axisOpts(26, 13, 31, 50, "#000", 6, null, -8));
drawAxis(d3.axisRight, yDefB, bDefTicks, defMinor.slice(0, 5), "translate(" + boxB.r + ",0)", axisOpts(22, 10, 26, 50, axisBlue, 6, oneDecimal));
drawArrow(2315, 2182, 1136);
drawArrow(3511, 3675, 707);
drawLegend(2236, 2354, 2366, 157, 220);
svg.append("rect").attr("x", 2578).attr("y", 110).attr("width", 1020).attr("height", 440).attr("fill", "#fdfdfd");
addText(2005, 128, "(b)", 54, { anchor: "start" });
addText(2924, 1446, "Time(s)", 66, { italic: true });
addText(2037, 707, "Load(N)", 66, { italic: true, rotate: true });
addText(3841, 696, "Deformation(mm)", 66, { italic: true, rotate: true });

// inset of (b)
var inB = { l: 2675, r: 3475, t: 158, b: 495 };
var inBx = d3.scaleLinear().domain([1004, 1074]).range([inB.l, inB.r]);
var inByL = d3.scaleLinear().domain([-0.5, 12]).range([inB.b, inB.t]);
var inByR = d3.scaleLinear().domain([-1, 0.8]).range([inB.b, inB.t]);
drawInsetLine(inB, inBx, inByR, bInsetDeform, "#c8892a", 2.5, d3.curveMonotoneX);
drawInsetLine(inB, inBx, inByL, bInsetLoad, "#666", 2, d3.curveMonotoneX);
drawFrame(inB, "#000", 3.5, axisBlue, "#444");
drawAxis(d3.axisBottom, inBx, d3.range(1010, 1071, 10), d3.range(1005, 1075, 10), "translate(0," + inB.b + ")", axisOpts(9, 5, 4, 23, "#000", 3));
drawAxis(d3.axisLeft, inByL, [0, 2, 4, 6, 8, 10, 12], [1, 3, 5, 7, 9, 11], "translate(" + inB.l + ",0)", axisOpts(10, 5, 11, 23, "#000", 3));
drawAxis(d3.axisRight, inByR, [-1, -0.5, 0, 0.5], [-0.75, -0.25, 0.25, 0.75], "translate(" + inB.r + ",0)", axisOpts(10, 5, 11, 23, axisBlue, 3, oneDecimal));
addText(3059, 538, "Time(s)", 30, { italic: true });
addText(2610, 327, "Load(N)", 20, { italic: true, rotate: true });
addText(3555, 327, "Deformation(mm)", 19, { italic: true, rotate: true });

// ---------- panel (c)
var boxC = { l: 223, r: 1899, t: 1480, b: 2727 };
var xC = d3.scaleLinear().domain([-50.5, 1251.4]).range([boxC.l, boxC.r]);
var yC = d3.scaleLinear().domain([-5.2, 160]).range([boxC.b, boxC.t]);

drawEnvelope(xC, yC, cTop, 40, resColor, 3);
drawEnvelope(xC, yC, cLow, 60, resColor, 3);
drawFrame(boxC, "#000", 7);
drawAxis(d3.axisBottom, xC, timeTicks, timeMinor, "translate(0," + boxC.b + ")", axisOpts(25, 12, 26, 54, "#000", 6));
drawAxis(d3.axisLeft, yC, resTicks, resMinor, "translate(" + boxC.l + ",0)", axisOpts(25, 13, 27, 54, "#000", 6));
addText(10, 1476, "(c)", 54, { anchor: "start" });
addText(1043, 2868, "Time(s)", 72, { italic: true });
var resTitleC = addText(69, 2081, "\u0394R/R", 72, { italic: true, rotate: true });
resTitleC.append("tspan").attr("dy", "0.12em").text("0");
resTitleC.append("tspan").attr("dy", "-0.12em").text("(%)");

var inC1 = { l: 331, r: 961, t: 1546, b: 1905 };
var inC1x = d3.scaleLinear().domain([10, 60]).range([inC1.l, inC1.r]);
var inC1y = d3.scaleLinear().domain([0, 100]).range([inC1.b, inC1.t]);
drawInsetLine(inC1, inC1x, inC1y, cInsetStart, resColor, 3);
drawFrame(inC1, "#000", 3);
drawAxis(d3.axisBottom, inC1x, d3.range(10, 61, 10), d3.range(15, 60, 10), "translate(0," + inC1.b + ")", axisOpts(8, 4, 6, 19, "#000", 2.5));
drawAxis(d3.axisLeft, inC1y, d3.range(0, 101, 20), d3.range(10, 100, 20), "translate(" + inC1.l + ",0)", axisOpts(8, 4, 11, 19, "#000", 2.5));

var inC2 = { l: 1174, r: 1800, t: 1546, b: 1905 };
var inC2x = d3.scaleLinear().domain([802.2, 851.9]).range([inC2.l, inC2.r]);
var inC2y = d3.scaleLinear().domain([-3.2, 102.4]).range([inC2.b, inC2.t]);
drawInsetLine(inC2, inC2x, inC2y, cInsetLate, resColor, 3);
drawFrame(inC2, "#000", 3);
drawAxis(d3.axisBottom, inC2x, d3.range(810, 851, 10), d3.range(805, 851, 10), "translate(0," + inC2.b + ")", axisOpts(8, 4, 6, 19, "#000", 2.5));
drawAxis(d3.axisLeft, inC2y, d3.range(0, 101, 20), d3.range(10, 100, 20), "translate(" + inC2.l + ",0)", axisOpts(8, 4, 11, 19, "#000", 2.5));

// ---------- panel (d)
var boxD = { l: 2242, r: 3753, t: 1473, b: 2707 };
var xD = d3.scaleLinear().domain([-50.9, 1251.7]).range([boxD.l, boxD.r]);
var yD = d3.scaleLinear().domain([0, 160]).range([boxD.b, boxD.t]);

drawEnvelope(xD, yD, dTop, 45, resColor, 3.5);
drawEnvelope(xD, yD, dLow, 50, resColor, 3.5);
drawFrame(boxD, "#000", 7);
drawAxis(d3.axisBottom, xD, timeTicks, timeMinor, "translate(0," + boxD.b + ")", axisOpts(24, 12, 29, 50, "#000", 6));
drawAxis(d3.axisLeft, yD, resTicks, resMinor, "translate(" + boxD.l + ",0)", axisOpts(25, 12, 25, 50, "#000", 6));
addText(2008, 1469, "(d)", 54, { anchor: "start" });
addText(2997, 2854, "Time(s)", 68, { italic: true });
var resTitleD = addText(2093, 2062, "\u0394R/R", 70, { italic: true, rotate: true });
resTitleD.append("tspan").attr("dy", "0.12em").text("0");
resTitleD.append("tspan").attr("dy", "-0.12em").text("(%)");

var inD1 = { l: 2392, r: 2873, t: 1537, b: 1893 };
var inD1x = d3.scaleLinear().domain([20.6, 92.4]).range([inD1.l, inD1.r]);
var inD1y = d3.scaleLinear().domain([6, 100]).range([inD1.b, inD1.t]);
drawInsetLine(inD1, inD1x, inD1y, dInsetStart, "#4f2157", 3);
drawFrame(inD1, "#555", 2.5);
drawAxis(d3.axisBottom, inD1x, d3.range(30, 91, 10), d3.range(25, 92, 10), "translate(0," + inD1.b + ")", axisOpts(7, 4, 7, 16, "#222", 2));
drawAxis(d3.axisLeft, inD1y, d3.range(10, 101, 10), d3.range(15, 100, 10), "translate(" + inD1.l + ",0)", axisOpts(7, 4, 8, 16, "#222", 2));

var inD2 = { l: 3115, r: 3594, t: 1542, b: 1899 };
var inD2x = d3.scaleLinear().domain([1068.66, 1140.2]).range([inD2.l, inD2.r]);
var inD2y = d3.scaleLinear().domain([13.4, 101.2]).range([inD2.b, inD2.t]);
drawInsetLine(inD2, inD2x, inD2y, dInsetLate, "#4f2157", 3);
drawFrame(inD2, "#555", 2.5);
drawAxis(d3.axisBottom, inD2x, d3.range(1070, 1141, 10), d3.range(1075, 1140, 10), "translate(0," + inD2.b + ")", axisOpts(7, 4, 7, 16, "#222", 2));
drawAxis(d3.axisLeft, inD2y, d3.range(20, 101, 10), d3.range(15, 100, 10), "translate(" + inD2.l + ",0)", axisOpts(7, 4, 8, 16, "#222", 2));
</script>
</body>
</html>
